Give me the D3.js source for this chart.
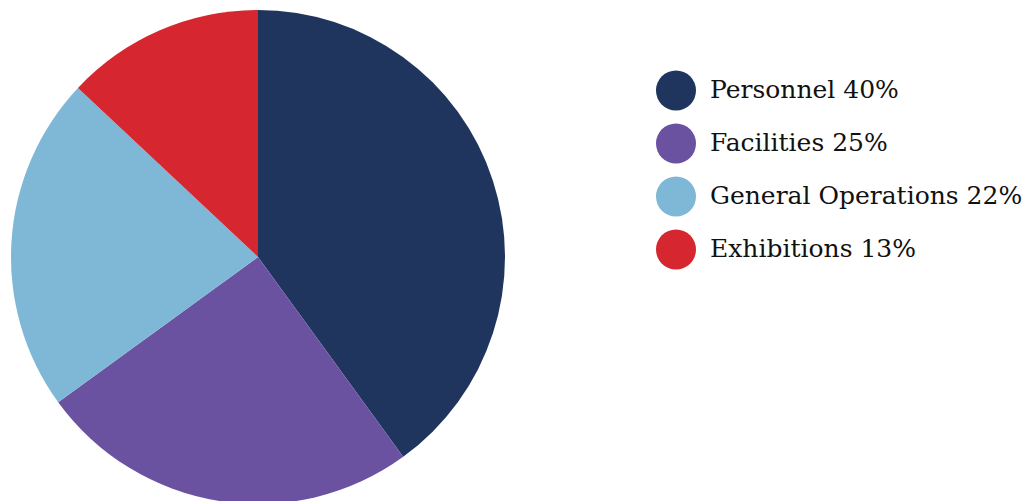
<!DOCTYPE html>
<html>
<head>
<meta charset="utf-8">
<script src="https://cdn.jsdelivr.net/npm/d3@7"></script>
<style>
  body { margin: 0; background: #fff; }
</style>
</head>
<body>
<div class="chart"></div>
<script>
const categories = ["Personnel", "Facilities", "General Operations", "Exhibitions"];
const shares = [40, 25, 22, 13];
const colors = ["#1f355e", "#6a52a1", "#7fb8d6", "#d62730"];

const width = 1031, height = 501;
const svg = d3.select(".chart").append("svg")
  .attr("width", width)
  .attr("height", height);

const data = categories.map((c, i) => ({ name: c, value: shares[i] }));

// pie
const pie = d3.pie().value(d => d.value).sort(null);
const arc = d3.arc().innerRadius(0).outerRadius(247);
const color = d3.scaleOrdinal().domain(categories).range(colors);

svg.append("g")
  .attr("transform", "translate(258,257)")
  .selectAll("path")
  .data(pie(data))
  .join("path")
  .attr("d", arc)
  .attr("fill", d => color(d.data.name));

// legend
const y = d3.scaleBand().domain(categories).range([64, 276]);

const legend = svg.append("g")
  .selectAll("g")
  .data(data)
  .join("g")
  .attr("transform", d => `translate(676,${y(d.name) + y.bandwidth() / 2})`);

legend.append("circle")
  .attr("r", 20)
  .attr("fill", d => color(d.name));

legend.append("text")
  .attr("x", 34)
  .attr("dy", "0.3em")
  .style("font-family", "'DejaVu Serif', serif")
  .style("font-size", "25px")
  .style("fill", "#111")
  .text(d => `${d.name} ${d.value}%`);
</script>
</body>
</html>
